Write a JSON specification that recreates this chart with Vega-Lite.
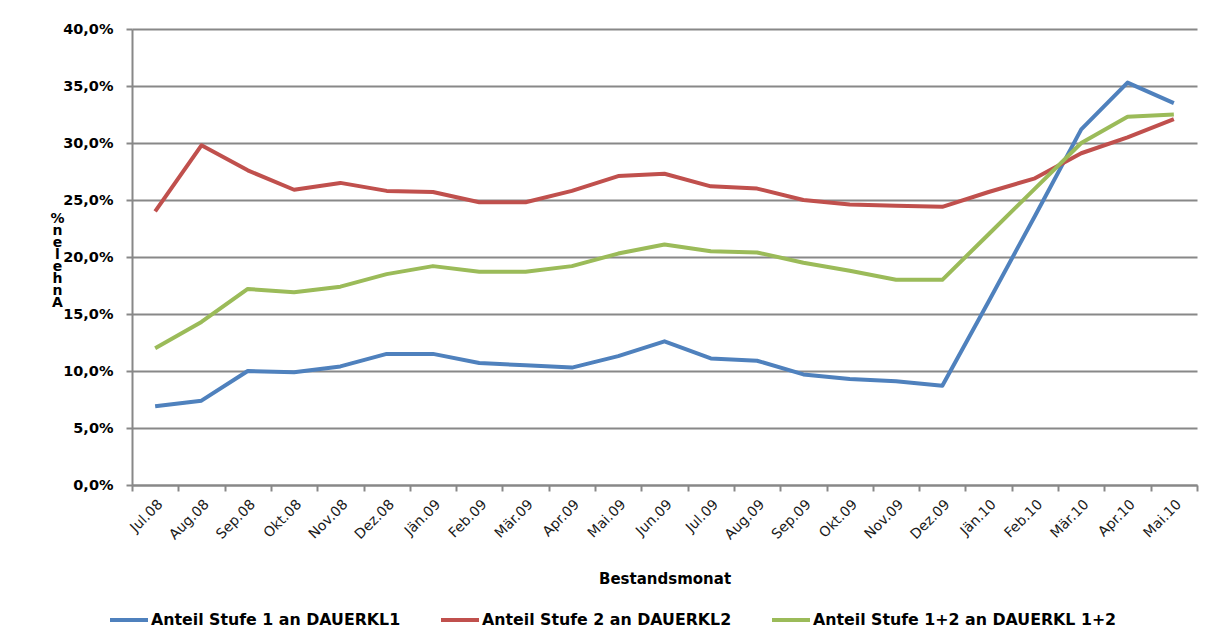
{
  "$schema": "https://vega.github.io/schema/vega-lite/v6.json",
  "width": 1065,
  "height": 456,
  "autosize": {"type": "none"},
  "padding": {"left": 132, "top": 29, "right": 9, "bottom": 152},
  "background": "white",
  "config": {
    "locale": {"number": {"decimal": ",", "thousands": ".", "grouping": [3], "currency": ["", " €"]}},
    "font": "DejaVu Sans",
    "view": {"stroke": null}
  },
  "data": {"values": [
    {"m": "Jul.08", "s": "Anteil Stufe 1 an DAUERKL1", "v": 0.069},
    {"m": "Aug.08", "s": "Anteil Stufe 1 an DAUERKL1", "v": 0.074},
    {"m": "Sep.08", "s": "Anteil Stufe 1 an DAUERKL1", "v": 0.100},
    {"m": "Okt.08", "s": "Anteil Stufe 1 an DAUERKL1", "v": 0.099},
    {"m": "Nov.08", "s": "Anteil Stufe 1 an DAUERKL1", "v": 0.104},
    {"m": "Dez.08", "s": "Anteil Stufe 1 an DAUERKL1", "v": 0.115},
    {"m": "Jän.09", "s": "Anteil Stufe 1 an DAUERKL1", "v": 0.115},
    {"m": "Feb.09", "s": "Anteil Stufe 1 an DAUERKL1", "v": 0.107},
    {"m": "Mär.09", "s": "Anteil Stufe 1 an DAUERKL1", "v": 0.105},
    {"m": "Apr.09", "s": "Anteil Stufe 1 an DAUERKL1", "v": 0.103},
    {"m": "Mai.09", "s": "Anteil Stufe 1 an DAUERKL1", "v": 0.113},
    {"m": "Jun.09", "s": "Anteil Stufe 1 an DAUERKL1", "v": 0.126},
    {"m": "Jul.09", "s": "Anteil Stufe 1 an DAUERKL1", "v": 0.111},
    {"m": "Aug.09", "s": "Anteil Stufe 1 an DAUERKL1", "v": 0.109},
    {"m": "Sep.09", "s": "Anteil Stufe 1 an DAUERKL1", "v": 0.097},
    {"m": "Okt.09", "s": "Anteil Stufe 1 an DAUERKL1", "v": 0.093},
    {"m": "Nov.09", "s": "Anteil Stufe 1 an DAUERKL1", "v": 0.091},
    {"m": "Dez.09", "s": "Anteil Stufe 1 an DAUERKL1", "v": 0.087},
    {"m": "Jän.10", "s": "Anteil Stufe 1 an DAUERKL1", "v": 0.161},
    {"m": "Feb.10", "s": "Anteil Stufe 1 an DAUERKL1", "v": 0.236},
    {"m": "Mär.10", "s": "Anteil Stufe 1 an DAUERKL1", "v": 0.312},
    {"m": "Apr.10", "s": "Anteil Stufe 1 an DAUERKL1", "v": 0.353},
    {"m": "Mai.10", "s": "Anteil Stufe 1 an DAUERKL1", "v": 0.335},
    {"m": "Jul.08", "s": "Anteil Stufe 2 an DAUERKL2", "v": 0.240},
    {"m": "Aug.08", "s": "Anteil Stufe 2 an DAUERKL2", "v": 0.298},
    {"m": "Sep.08", "s": "Anteil Stufe 2 an DAUERKL2", "v": 0.276},
    {"m": "Okt.08", "s": "Anteil Stufe 2 an DAUERKL2", "v": 0.259},
    {"m": "Nov.08", "s": "Anteil Stufe 2 an DAUERKL2", "v": 0.265},
    {"m": "Dez.08", "s": "Anteil Stufe 2 an DAUERKL2", "v": 0.258},
    {"m": "Jän.09", "s": "Anteil Stufe 2 an DAUERKL2", "v": 0.257},
    {"m": "Feb.09", "s": "Anteil Stufe 2 an DAUERKL2", "v": 0.248},
    {"m": "Mär.09", "s": "Anteil Stufe 2 an DAUERKL2", "v": 0.248},
    {"m": "Apr.09", "s": "Anteil Stufe 2 an DAUERKL2", "v": 0.258},
    {"m": "Mai.09", "s": "Anteil Stufe 2 an DAUERKL2", "v": 0.271},
    {"m": "Jun.09", "s": "Anteil Stufe 2 an DAUERKL2", "v": 0.273},
    {"m": "Jul.09", "s": "Anteil Stufe 2 an DAUERKL2", "v": 0.262},
    {"m": "Aug.09", "s": "Anteil Stufe 2 an DAUERKL2", "v": 0.260},
    {"m": "Sep.09", "s": "Anteil Stufe 2 an DAUERKL2", "v": 0.250},
    {"m": "Okt.09", "s": "Anteil Stufe 2 an DAUERKL2", "v": 0.246},
    {"m": "Nov.09", "s": "Anteil Stufe 2 an DAUERKL2", "v": 0.245},
    {"m": "Dez.09", "s": "Anteil Stufe 2 an DAUERKL2", "v": 0.244},
    {"m": "Jän.10", "s": "Anteil Stufe 2 an DAUERKL2", "v": 0.257},
    {"m": "Feb.10", "s": "Anteil Stufe 2 an DAUERKL2", "v": 0.269},
    {"m": "Mär.10", "s": "Anteil Stufe 2 an DAUERKL2", "v": 0.291},
    {"m": "Apr.10", "s": "Anteil Stufe 2 an DAUERKL2", "v": 0.305},
    {"m": "Mai.10", "s": "Anteil Stufe 2 an DAUERKL2", "v": 0.321},
    {"m": "Jul.08", "s": "Anteil Stufe 1+2 an DAUERKL 1+2", "v": 0.120},
    {"m": "Aug.08", "s": "Anteil Stufe 1+2 an DAUERKL 1+2", "v": 0.143},
    {"m": "Sep.08", "s": "Anteil Stufe 1+2 an DAUERKL 1+2", "v": 0.172},
    {"m": "Okt.08", "s": "Anteil Stufe 1+2 an DAUERKL 1+2", "v": 0.169},
    {"m": "Nov.08", "s": "Anteil Stufe 1+2 an DAUERKL 1+2", "v": 0.174},
    {"m": "Dez.08", "s": "Anteil Stufe 1+2 an DAUERKL 1+2", "v": 0.185},
    {"m": "Jän.09", "s": "Anteil Stufe 1+2 an DAUERKL 1+2", "v": 0.192},
    {"m": "Feb.09", "s": "Anteil Stufe 1+2 an DAUERKL 1+2", "v": 0.187},
    {"m": "Mär.09", "s": "Anteil Stufe 1+2 an DAUERKL 1+2", "v": 0.187},
    {"m": "Apr.09", "s": "Anteil Stufe 1+2 an DAUERKL 1+2", "v": 0.192},
    {"m": "Mai.09", "s": "Anteil Stufe 1+2 an DAUERKL 1+2", "v": 0.203},
    {"m": "Jun.09", "s": "Anteil Stufe 1+2 an DAUERKL 1+2", "v": 0.211},
    {"m": "Jul.09", "s": "Anteil Stufe 1+2 an DAUERKL 1+2", "v": 0.205},
    {"m": "Aug.09", "s": "Anteil Stufe 1+2 an DAUERKL 1+2", "v": 0.204},
    {"m": "Sep.09", "s": "Anteil Stufe 1+2 an DAUERKL 1+2", "v": 0.195},
    {"m": "Okt.09", "s": "Anteil Stufe 1+2 an DAUERKL 1+2", "v": 0.188},
    {"m": "Nov.09", "s": "Anteil Stufe 1+2 an DAUERKL 1+2", "v": 0.180},
    {"m": "Dez.09", "s": "Anteil Stufe 1+2 an DAUERKL 1+2", "v": 0.180},
    {"m": "Jän.10", "s": "Anteil Stufe 1+2 an DAUERKL 1+2", "v": 0.220},
    {"m": "Feb.10", "s": "Anteil Stufe 1+2 an DAUERKL 1+2", "v": 0.260},
    {"m": "Mär.10", "s": "Anteil Stufe 1+2 an DAUERKL 1+2", "v": 0.300},
    {"m": "Apr.10", "s": "Anteil Stufe 1+2 an DAUERKL 1+2", "v": 0.323},
    {"m": "Mai.10", "s": "Anteil Stufe 1+2 an DAUERKL 1+2", "v": 0.325}
  ]},
  "mark": {"type": "line", "strokeWidth": 4, "strokeJoin": "round", "strokeCap": "butt"},
  "encoding": {
    "x": {
      "field": "m", "type": "ordinal", "bandPosition": 0.5,
      "sort": ["Jul.08","Aug.08","Sep.08","Okt.08","Nov.08","Dez.08","Jän.09","Feb.09","Mär.09","Apr.09","Mai.09","Jun.09","Jul.09","Aug.09","Sep.09","Okt.09","Nov.09","Dez.09","Jän.10","Feb.10","Mär.10","Apr.10","Mai.10"],
      "scale": {"type": "band", "paddingInner": 0, "paddingOuter": 0},
      "axis": {
        "title": "Bestandsmonat",
        "titleFont": "DejaVu Sans", "titleFontSize": 15, "titleFontWeight": "bold", "titleColor": "#000000",
        "titlePadding": 30,
        "labelAngle": -45, "labelFontSize": 14, "labelColor": "#1a1a1a", "labelFont": "DejaVu Sans",
        "labelPadding": 6,
        "tickBand": "extent", "tickSize": 6, "tickColor": "#888888", "tickWidth": 2,
        "domainColor": "#888888", "domainWidth": 2, "grid": false
      }
    },
    "y": {
      "field": "v", "type": "quantitative",
      "scale": {"domain": [0, 0.4], "nice": false},
      "axis": {
        "values": [0, 0.05, 0.1, 0.15, 0.2, 0.25, 0.3, 0.35, 0.4],
        "format": ".1%",
        "labelFontSize": 14.5, "labelFontWeight": "bold", "labelColor": "#000000", "labelFont": "DejaVu Sans",
        "labelPadding": 13,
        "tickSize": 6, "tickColor": "#888888", "tickWidth": 2,
        "domainColor": "#888888", "domainWidth": 2,
        "grid": true, "gridColor": "#888888", "gridWidth": 2,
        "title": ["%", "n", "e", "l", "e", "h", "n", "A"],
        "titleAngle": 0, "titleFont": "DejaVu Sans", "titleFontSize": 14, "titleFontWeight": "bold", "titleColor": "#000000",
        "titleLineHeight": 12, "titleBaseline": "top", "titleAlign": "center",
        "titleX": -75, "titleY": 182
      }
    },
    "color": {
      "field": "s", "type": "nominal",
      "scale": {
        "domain": ["Anteil Stufe 1 an DAUERKL1", "Anteil Stufe 2 an DAUERKL2", "Anteil Stufe 1+2 an DAUERKL 1+2"],
        "range": ["#4F81BD", "#C0504D", "#9BBB59"]
      },
      "legend": {
        "title": null, "orient": "none", "direction": "horizontal",
        "legendX": -24, "legendY": 570,
        "symbolType": "stroke", "symbolSize": 1444, "symbolStrokeWidth": 4,
        "labelFontSize": 15.8, "labelFontWeight": "bold", "labelColor": "#000000", "labelFont": "DejaVu Sans",
        "labelOffset": 1, "columnPadding": 32, "labelLimit": 400
      }
    }
  }
}
